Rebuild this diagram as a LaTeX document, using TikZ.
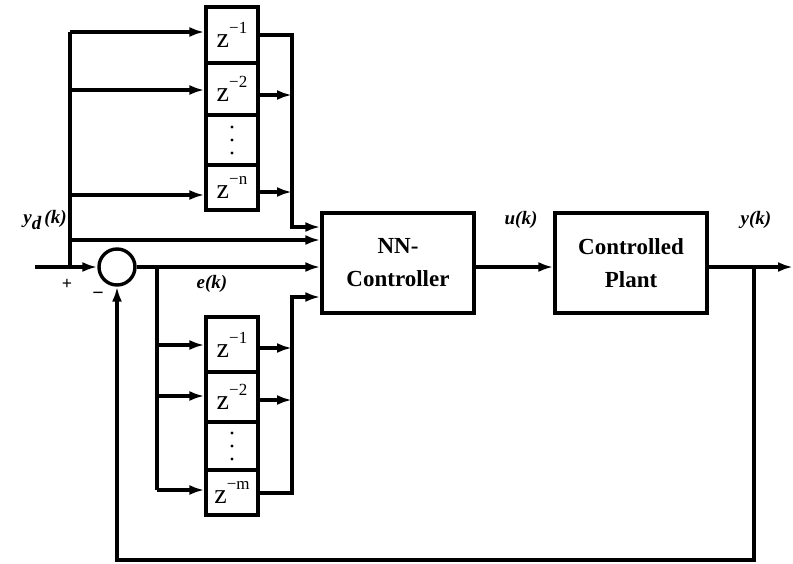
\documentclass[tikz,border=0pt]{standalone}
\usepackage{fontspec}
\setmainfont{Liberation Serif}
\usetikzlibrary{arrows.meta,calc}
\newcommand{\zz}[1]{z\raisebox{0.5em}{\fontsize{17}{17}\selectfont −#1}}
\begin{document}
\begin{tikzpicture}[x=1pt,y=-1pt,
  wire/.style={line width=3.2pt},
  arr/.style={wire,-{Latex[length=15pt,width=10pt]}},
  cell/.style={draw,line width=3.2pt,minimum width=52pt,inner sep=0pt,font=\fontsize{28}{28}\selectfont},
  blk/.style={draw,line width=3.4pt,minimum width=152pt,minimum height=100pt,font=\bfseries\fontsize{23}{33}\selectfont,align=center},
  lbl/.style={font=\bfseries\itshape\fontsize{19}{22}\selectfont,inner sep=1pt}]
\useasboundingbox (0,0) rectangle (793,563);
% top delay chain
\node[cell,minimum height=56pt] (t1) at (232,35) {\zz{1}};
\node[cell,minimum height=52pt] (t2) at (232,89) {\zz{2}};
\node[cell,minimum height=50pt] (t3) at (232,140) {};
\node[cell,minimum height=45pt] (t4) at (232,187.5) {\zz{n}};
% bottom delay chain
\node[cell,minimum height=55pt] (s1) at (232,344.5) {\zz{1}};
\node[cell,minimum height=50pt] (s2) at (232,397) {\zz{2}};
\node[cell,minimum height=48pt] (s3) at (232,446) {};
\node[cell,minimum height=45pt] (s4) at (232,492.5) {\zz{m}};
\foreach \c in {t3,s3}{
  \fill ($(\c.center)+(0,-13)$) circle (1.6pt);
  \fill (\c.center) circle (1.6pt);
  \fill ($(\c.center)+(0,13)$) circle (1.6pt);
}
% main blocks
\node[blk] (nn) at (398,263) {NN-\\Controller};
\node[blk] (plant) at (631,263) {Controlled\\Plant};
\node[draw,circle,line width=3.4pt,minimum size=36pt,inner sep=0pt] (sum) at (117,267) {};
% labels
\node[lbl] (lyd) at (45,220) {y\raisebox{-6pt}{d}\,(k)};
\node[lbl] (le) at (212,284) {e(k)};
\node[lbl] (lu) at (521,220) {u(k)};
\node[lbl] (ly) at (756,220) {y(k)};
\node[font=\bfseries\fontsize{18}{18}\selectfont] (lp) at (67,284) {+};
\node[font=\bfseries\fontsize{20}{20}\selectfont] (lm) at (98,296) {−};
% y_d bus
\coordinate (yd1) at (70,32);
\coordinate (yd2) at (70,90);
\coordinate (yd3) at (70,195);
\coordinate (yd4) at (70,240);
\coordinate (ydj) at (70,267);
\coordinate (in) at (35,267);
\draw[wire] (yd1) -- (ydj);
\draw[arr] (yd1) -- (yd1 -| t1.west);
\draw[arr] (yd2) -- (yd2 -| t2.west);
\draw[arr] (yd3) -- (yd3 -| t4.west);
\draw[arr] (yd4) -- (yd4 -| nn.west);
\draw[arr] (in) -- (sum.west);
% top outputs
\coordinate (tb) at (292,35);
\coordinate (tc) at (292,227);
\coordinate (t2o) at (292,95);
\coordinate (t4o) at (292,192);
\draw[arr] (t1.east |- tb) -- (tb) -- (tc) -- (tc -| nn.west);
\draw[arr] (t2.east |- t2o) -- (t2o);
\draw[arr] (t4.east |- t4o) -- (t4o);
% error path
\draw[arr] (sum.east) -- (sum.east -| nn.west);
\coordinate (eb) at (157,267);
\coordinate (eb1) at (157,345);
\coordinate (eb2) at (157,396);
\coordinate (eb3) at (157,490);
\draw[wire] (eb) -- (eb3);
\draw[arr] (eb1) -- (eb1 -| s1.west);
\draw[arr] (eb2) -- (eb2 -| s2.west);
\draw[arr] (eb3) -- (eb3 -| s4.west);
% bottom outputs
\coordinate (bo1) at (292,348);
\coordinate (bo2) at (292,400);
\coordinate (bo3) at (292,493);
\coordinate (bo4) at (292,297);
\draw[arr] (s1.east |- bo1) -- (bo1);
\draw[arr] (s2.east |- bo2) -- (bo2);
\draw[arr] (s4.east |- bo3) -- (bo3) -- (bo4) -- (bo4 -| nn.west);
% forward path
\draw[arr] (nn.east |- sum) -- (plant.west |- sum);
\coordinate (yk) at (754,267);
\coordinate (out) at (793,267);
\draw[arr] (plant.east |- sum) -- (out);
% feedback
\coordinate (fb1) at (754,560);
\coordinate (fb2) at (117,560);
\draw[arr] (yk) -- (fb1) -- (fb2) -- (sum.south);
\end{tikzpicture}
\end{document}
